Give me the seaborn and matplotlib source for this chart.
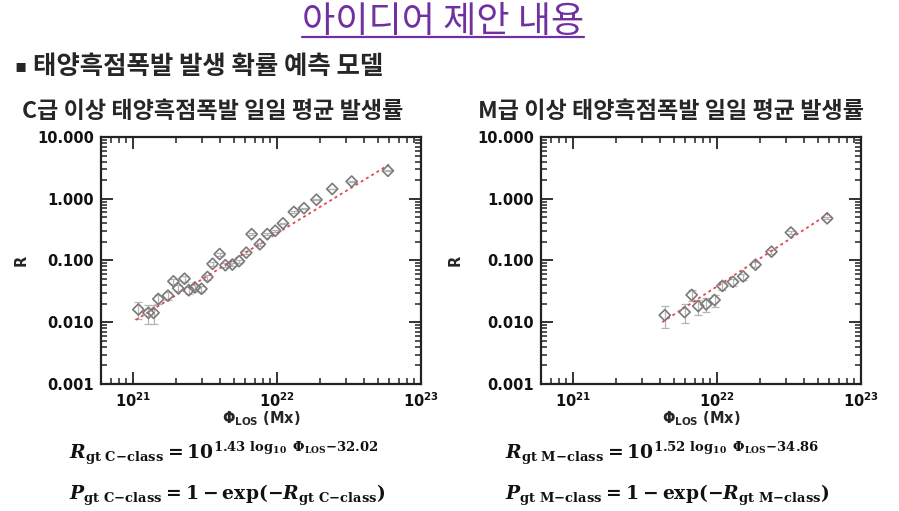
import numpy as np
import pandas as pd
import matplotlib
matplotlib.use("Agg")
import matplotlib.pyplot as plt
import seaborn as sns

# C-class panel: magnetic flux (Mx), daily mean rate R, error
c_flux = [1.09e21, 1.28e21, 1.39e21, 1.50e21, 1.75e21, 1.91e21, 2.06e21, 2.28e21,
          2.44e21, 2.69e21, 2.99e21, 3.29e21, 3.57e21, 4.00e21, 4.38e21, 4.90e21,
          5.45e21, 6.12e21, 6.67e21, 7.60e21, 8.55e21, 9.73e21, 1.10e22, 1.31e22,
          1.54e22, 1.88e22, 2.42e22, 3.30e22, 5.89e22]
c_rate = [0.0161, 0.0142, 0.0142, 0.0238, 0.027, 0.046, 0.0356, 0.0507,
          0.033, 0.0366, 0.0348, 0.054, 0.0883, 0.127, 0.0838, 0.086,
          0.0975, 0.134, 0.267, 0.183, 0.267, 0.303, 0.40, 0.612,
          0.703, 0.964, 1.44, 1.90, 2.84]
c_err = [0.005, 0.005, 0.005, 0.004, 0.004, 0.005, 0.004, 0.005,
         0.004, 0.004, 0.004, 0.005, 0.006, 0.007, 0.006, 0.006,
         0.006, 0.007, 0.010, 0.009, 0.010, 0.010, 0.012, 0.015,
         0.016, 0.020, 0.025, 0.030, 0.040]

# M-class panel
m_flux = [4.34e21, 5.96e21, 6.67e21, 7.41e21, 8.41e21, 9.62e21, 1.09e22,
          1.29e22, 1.52e22, 1.85e22, 2.39e22, 3.26e22, 5.82e22]
m_rate = [0.0130, 0.0146, 0.0277, 0.0183, 0.0195, 0.0229, 0.0388,
          0.0451, 0.0552, 0.0855, 0.139, 0.284, 0.482]
m_err = [0.005, 0.005, 0.006, 0.005, 0.005, 0.005, 0.006,
         0.006, 0.006, 0.008, 0.010, 0.015, 0.020]

# fit coefficients as printed under each panel
c_fit = (1.43, -32.02)
m_fit = (1.52, -34.86)

y_ticks = [0.001, 0.01, 0.1, 1, 10]
y_labels = ["0.001", "0.010", "0.100", "1.000", "10.000"]
x_ticks = [1e21, 1e22, 1e23]
x_labels = [r"$\mathbf{10^{21}}$", r"$\mathbf{10^{22}}$", r"$\mathbf{10^{23}}$"]

sns.set_style("ticks")
plt.rcParams["font.family"] = ["DejaVu Sans"]
plt.rcParams["font.weight"] = "bold"
plt.rcParams["mathtext.rm"] = "DejaVu Serif:bold"
plt.rcParams["mathtext.it"] = "DejaVu Serif:italic:bold"
plt.rcParams["mathtext.bf"] = "DejaVu Serif:bold"
KR = ["Noto Sans CJK KR", "DejaVu Sans"]

fig = plt.figure(figsize=(8.99, 5.11), dpi=100)
W, H = 899, 511


def draw_panel(ax, flux, rate, err, fit, ylab_x):
    df = pd.DataFrame({"flux": flux, "rate": rate, "err": err})
    ax.errorbar(df["flux"], df["rate"], yerr=df["err"], fmt="none",
                ecolor="#b5b5b5", elinewidth=0.9, capsize=3, capthick=0.9, zorder=2)
    lx = np.array([df["flux"].min() * 0.96, df["flux"].max() * 1.02])
    line = pd.DataFrame({"flux": lx, "fit": 10 ** (fit[0] * np.log10(lx) + fit[1])})
    sns.lineplot(data=line, x="flux", y="fit", ax=ax, color="#e5464f",
                 linewidth=1.3, linestyle=(0, (1.6, 1.8)), zorder=3)
    sns.scatterplot(data=df, x="flux", y="rate", ax=ax, marker="D", s=32,
                    facecolor="none", edgecolor="#7a7a7a", linewidth=1.2, zorder=4)
    ax.set_xscale("log")
    ax.set_yscale("log")
    ax.set_xlim(6e20, 1e23)
    ax.set_ylim(0.001, 10)
    ax.set_xticks(x_ticks, x_labels)
    ax.set_yticks(y_ticks, y_labels)
    ax.tick_params(which="both", direction="in", top=True, right=True,
                   colors="#222222", labelcolor="#111111")
    ax.tick_params(which="major", length=8.5, width=1.3, labelsize=10.5, pad=5)
    ax.tick_params(which="minor", length=4.3, width=1.1)
    for s in ax.spines.values():
        s.set_linewidth(1.6)
        s.set_color("#222222")
    ax.set_ylabel("R", fontsize=10.5, fontweight="bold")
    ax.yaxis.set_label_coords(ylab_x, 0.5)
    ax.set_xlabel(r"$\Phi_{\mathbf{LOS}}$ (Mx)", fontsize=10.5, fontweight="bold",
                  labelpad=0)


ax1 = fig.add_axes([101 / W, 1 - 384 / H, 320 / W, 247 / H])
ax2 = fig.add_axes([541 / W, 1 - 384 / H, 320 / W, 247 / H])
draw_panel(ax1, c_flux, c_rate, c_err, c_fit, -0.226)
draw_panel(ax2, m_flux, m_rate, m_err, m_fit, -0.245)

# slide texts
title = fig.text(443 / W, 1 - 32 / H, "아이디어 제안 내용", ha="center", va="baseline",
                 fontsize=26, color="#7030a0", fontweight="medium", family=KR)
fig.canvas.draw()
bb = title.get_window_extent()
fig.add_artist(plt.Line2D([bb.x0 / W, bb.x1 / W], [1 - 37 / H, 1 - 37 / H],
                          color="#7030a0", linewidth=1.6))

fig.text(14 / W, 1 - 66 / H, "▪", ha="left", va="center", fontsize=13,
         family=["DejaVu Sans"])
fig.text(33 / W, 1 - 66 / H, "태양흑점폭발 발생 확률 예측 모델", ha="left", va="center",
         fontsize=18.3, fontweight="bold", family=KR)
fig.text(22 / W, 1 - 112 / H, "C급 이상 태양흑점폭발 일일 평균 발생률", ha="left",
         va="center", fontsize=16.6, fontweight="bold", family=KR)
fig.text(478 / W, 1 - 112 / H, "M급 이상 태양흑점폭발 일일 평균 발생률", ha="left",
         va="center", fontsize=16.6, fontweight="bold", family=KR)

eqs = [
    (69, 453, r"$R_{\mathrm{gt\ C{-}class}} = 10^{1.43\ \log_{10}\ \mathit{\Phi}_{\mathrm{LOS}}{-}32.02}$"),
    (69, 495, r"$P_{\mathrm{gt\ C{-}class}} = 1 - \exp(-R_{\mathrm{gt\ C{-}class}})$"),
    (505, 453, r"$R_{\mathrm{gt\ M{-}class}} = 10^{1.52\ \log_{10}\ \mathit{\Phi}_{\mathrm{LOS}}{-}34.86}$"),
    (505, 495, r"$P_{\mathrm{gt\ M{-}class}} = 1 - \exp(-R_{\mathrm{gt\ M{-}class}})$"),
]
for ex, ey, s in eqs:
    fig.text(ex / W, 1 - ey / H, s, ha="left", va="center", fontsize=13.5,
             math_fontfamily="custom", color="#111111")

fig.savefig("out.png", dpi=100)
